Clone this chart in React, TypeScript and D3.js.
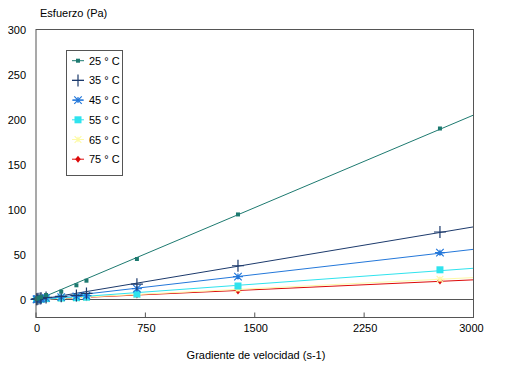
import React from 'react';
import * as d3 from 'd3';

// shear rate (s-1)
const shearRate = [3.5, 7, 14, 28, 35, 69, 173, 277, 346, 692, 1385, 2770];

const stress25 = [0.6, 1.0, 1.6, 2.4, 3.0, 5.0, 8.7, 15.8, 20.9, 45, 94.5, 190];
const stress35 = [0.2, 0.4, 0.7, 1.2, 1.5, 2.3, 3.5, 4.5, 6.8, 17, 37.5, 75];
const stress45 = [0.1, 0.3, 0.5, 0.9, 1.1, 1.8, 2.6, 3.4, 4.2, 12, 25.5, 52];
const stress55 = [0, 0.2, 0.3, 0.5, 0.6, 1.0, 1.6, 2.0, 2.5, 6, 15, 33];
const stress65 = [0, 0.1, 0.2, 0.3, 0.4, 0.7, 1.3, 1.8, 2.2, 5.5, 11.5, 22.5];
const stress75 = [0, 0.1, 0.2, 0.3, 0.3, 0.6, 1.2, 1.6, 2.0, 5, 9.5, 20.5];

const seriesNames = ['25 ° C', '35 ° C', '45 ° C', '55 ° C', '65 ° C', '75 ° C'];
const xTicks = [0, 750, 1500, 2250, 3000];
const yTicks = [0, 50, 100, 150, 200, 250, 300];

const series = [
  { name: seriesNames[0], values: stress25, color: '#1d7a70', marker: 'square', size: 4 },
  { name: seriesNames[1], values: stress35, color: '#1c3a6c', marker: 'plus', size: 12 },
  { name: seriesNames[2], values: stress45, color: '#2478da', marker: 'asterisk', size: 10 },
  { name: seriesNames[3], values: stress55, color: '#2fe3ee', marker: 'square', size: 7 },
  { name: seriesNames[4], values: stress65, color: '#fdfaa8', marker: 'asterisk', size: 9 },
  { name: seriesNames[5], values: stress75, color: '#dd0a0a', marker: 'diamond', size: 7 },
];

function fit(xs: number[], ys: number[]) {
  const mx = d3.mean(xs)!, my = d3.mean(ys)!;
  let num = 0, den = 0;
  xs.forEach((x, i) => { num += (x - mx) * (ys[i] - my); den += (x - mx) * (x - mx); });
  const slope = num / den;
  return { slope, intercept: my - slope * mx };
}

function Marker({ type, x, y, size, color }: any) {
  const h = size / 2;
  if (type === 'square') return <rect x={x - h} y={y - h} width={size} height={size} fill={color} />;
  if (type === 'diamond') return <path d={`M${x},${y - h}L${x + h * 0.8},${y}L${x},${y + h}L${x - h * 0.8},${y}Z`} fill={color} />;
  if (type === 'plus') return <path d={`M${x - h},${y}H${x + h}M${x},${y - h}V${y + h}`} stroke={color} strokeWidth={1.2} />;
  const d = h * 0.75;
  return (
    <path
      d={`M${x - h},${y}H${x + h}M${x},${y - h * 0.6}V${y + h * 0.6}M${x - d},${y - d}L${x + d},${y + d}M${x - d},${y + d}L${x + d},${y - d}`}
      stroke={color}
      strokeWidth={1.2}
    />
  );
}

export default function App() {
  const width = 508, height = 367;
  const x = d3.scaleLinear().domain([0, 3000]).range([36, 473.5]);
  const y = d3.scaleLinear().domain([-20, 300]).range([317.5, 29.5]);
  const font = 'Liberation Sans, Arial, sans-serif';

  return (
    <svg width={width} height={height} style={{ position: 'absolute', left: 0, top: 0, background: '#fff' }} fontFamily={font}>
      <rect x={0} y={0} width={width} height={height} fill="#fff" />
      <text x={40} y={17} fontSize={11}>Esfuerzo (Pa)</text>

      {yTicks.map(t => (
        <text key={t} x={26} y={y(t) + 4} fontSize={11} textAnchor="end">{t}</text>
      ))}
      {xTicks.map(t => (
        <g key={t}>
          <line x1={x(t)} x2={x(t)} y1={y(-20)} y2={y(-20) - 5} stroke="#555" />
          <text x={t === 3000 ? x(t) - 2 : x(t) + 1} y={332} fontSize={11} textAnchor="middle">{t}</text>
        </g>
      ))}
      <text x={256} y={359} fontSize={11} textAnchor="middle">Gradiente de velocidad (s-1)</text>

      <line x1={x(0)} x2={x(3000)} y1={y(0)} y2={y(0)} stroke="#555" />

      {[...series].reverse().map(s => {
        const f = fit(shearRate, s.values);
        return (
          <line key={s.name} x1={x(0)} y1={y(f.intercept)} x2={x(3000)} y2={y(f.intercept + f.slope * 3000)}
            stroke={s.color} strokeWidth={1} />
        );
      })}
      {[...series].reverse().map(s => (
        <g key={s.name}>
          {shearRate.map((r, i) => (
            <Marker key={i} type={s.marker} x={x(r)} y={y(s.values[i])} size={s.size} color={s.color} />
          ))}
        </g>
      ))}

      <rect x={36} y={29.5} width={437.5} height={288} fill="none" stroke="#555" />

      <rect x={66.5} y={50.5} width={56} height={125} fill="#fff" stroke="#555" />
      {series.map((s, i) => {
        const ly = 60.7 + i * 19.7;
        return (
          <g key={s.name}>
            <line x1={72} x2={84} y1={ly} y2={ly} stroke={s.color} strokeWidth={1} />
            <Marker type={s.marker} x={78} y={ly} size={s.size} color={s.color} />
            <text x={89} y={ly + 4} fontSize={11}>{s.name}</text>
          </g>
        );
      })}
    </svg>
  );
}
